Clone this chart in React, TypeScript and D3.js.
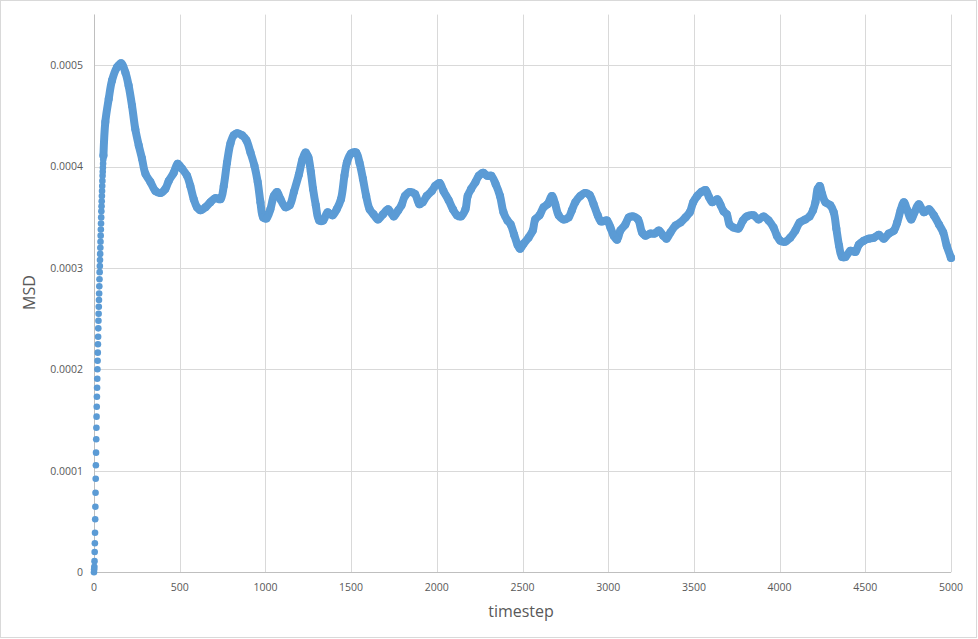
import React from "react";
import * as d3 from "d3";

// ---- data ----
// early ballistic rise, one sample per timestep (timestep = index)
const riseValues: number[] = [
  0, 0.03e-4, 0.055e-4, 0.11e-4, 0.2e-4, 0.286e-4, 0.39e-4, 0.523e-4, 0.647e-4, 0.785e-4,
  0.923e-4, 1.055e-4, 1.18e-4, 1.312e-4, 1.426e-4, 1.535e-4, 1.633e-4, 1.732e-4, 1.82e-4, 1.909e-4,
  2.002e-4, 2.087e-4, 2.166e-4, 2.249e-4, 2.323e-4, 2.406e-4, 2.481e-4, 2.55e-4, 2.619e-4, 2.685e-4,
  2.75e-4, 2.82e-4, 2.89e-4, 2.96e-4, 3.02e-4, 3.08e-4, 3.14e-4, 3.2e-4, 3.26e-4, 3.32e-4,
  3.38e-4, 3.44e-4, 3.5e-4, 3.56e-4, 3.61e-4, 3.66e-4, 3.71e-4, 3.76e-4, 3.81e-4, 3.86e-4,
  3.91e-4, 3.95e-4, 3.99e-4, 4.03e-4, 4.07e-4, 4.11e-4,
];

const mainSteps: number[] = [
  55, 66, 86, 105, 134, 158, 183, 202, 222, 241, 261, 280, 300, 329, 358, 387, 416, 436, 465, 488,
  514, 543, 562, 582, 601, 621, 650, 679, 708, 738, 757, 776, 796, 815, 835, 864, 889, 913, 936, 955,
  971, 987, 1006, 1029, 1049, 1068, 1088, 1117, 1142, 1166, 1195, 1216, 1235, 1251, 1265, 1278, 1294, 1314, 1337, 1363,
  1392, 1416, 1441, 1461, 1475, 1500, 1529, 1549, 1569, 1588, 1608, 1631, 1657, 1686, 1716, 1749, 1775, 1794, 1814, 1843,
  1873, 1898, 1918, 1941, 1971, 1990, 2016, 2039, 2069, 2094, 2118, 2141, 2167, 2180, 2200, 2226, 2245, 2271, 2294, 2318,
  2343, 2369, 2389, 2412, 2431, 2451, 2471, 2486, 2506, 2535, 2560, 2574, 2599, 2623, 2646, 2672, 2691, 2711, 2740, 2769,
  2788, 2808, 2837, 2866, 2892, 2915, 2939, 2958, 2993, 3013, 3032, 3052, 3071, 3100, 3120, 3145, 3174, 3198, 3217, 3246,
  3270, 3295, 3321, 3340, 3363, 3393, 3422, 3451, 3476, 3496, 3519, 3543, 3568, 3588, 3607, 3636, 3656, 3673, 3692, 3708,
  3731, 3760, 3786, 3809, 3848, 3877, 3906, 3936, 3965, 3984, 4004, 4033, 4062, 4092, 4117, 4150, 4175, 4195, 4209, 4222,
  4234, 4248, 4267, 4296, 4316, 4331, 4347, 4364, 4384, 4413, 4442, 4462, 4491, 4520, 4550, 4579, 4608, 4637, 4667, 4686,
  4706, 4725, 4745, 4768, 4787, 4813, 4842, 4871, 4900, 4930, 4955, 4975, 4998, 5000,
];

const mainValues: number[] = [
  4.11e-4, 4.44e-4, 4.67e-4, 4.85e-4, 4.98e-4, 5.02e-4, 4.93e-4, 4.8e-4, 4.6e-4, 4.37e-4, 4.21e-4, 4.08e-4, 3.93e-4, 3.85e-4, 3.76e-4, 3.74e-4, 3.78e-4, 3.86e-4, 3.94e-4, 4.03e-4,
  3.98e-4, 3.91e-4, 3.81e-4, 3.68e-4, 3.6e-4, 3.57e-4, 3.6e-4, 3.65e-4, 3.69e-4, 3.68e-4, 3.81e-4, 4.04e-4, 4.23e-4, 4.31e-4, 4.33e-4, 4.31e-4, 4.26e-4, 4.14e-4, 4.01e-4, 3.85e-4,
  3.65e-4, 3.5e-4, 3.49e-4, 3.58e-4, 3.71e-4, 3.75e-4, 3.68e-4, 3.6e-4, 3.62e-4, 3.75e-4, 3.92e-4, 4.07e-4, 4.14e-4, 4.09e-4, 3.95e-4, 3.78e-4, 3.62e-4, 3.47e-4, 3.47e-4, 3.55e-4,
  3.52e-4, 3.58e-4, 3.68e-4, 3.91e-4, 4.04e-4, 4.13e-4, 4.14e-4, 4.04e-4, 3.88e-4, 3.71e-4, 3.58e-4, 3.53e-4, 3.48e-4, 3.53e-4, 3.58e-4, 3.51e-4, 3.57e-4, 3.62e-4, 3.71e-4, 3.75e-4,
  3.73e-4, 3.63e-4, 3.65e-4, 3.71e-4, 3.76e-4, 3.81e-4, 3.84e-4, 3.76e-4, 3.67e-4, 3.58e-4, 3.52e-4, 3.51e-4, 3.58e-4, 3.71e-4, 3.78e-4, 3.85e-4, 3.91e-4, 3.94e-4, 3.91e-4, 3.91e-4,
  3.83e-4, 3.71e-4, 3.55e-4, 3.47e-4, 3.43e-4, 3.33e-4, 3.23e-4, 3.19e-4, 3.24e-4, 3.3e-4, 3.37e-4, 3.48e-4, 3.52e-4, 3.6e-4, 3.63e-4, 3.71e-4, 3.63e-4, 3.52e-4, 3.48e-4, 3.5e-4,
  3.57e-4, 3.65e-4, 3.71e-4, 3.74e-4, 3.72e-4, 3.63e-4, 3.52e-4, 3.46e-4, 3.47e-4, 3.4e-4, 3.32e-4, 3.28e-4, 3.37e-4, 3.43e-4, 3.5e-4, 3.51e-4, 3.48e-4, 3.35e-4, 3.32e-4, 3.34e-4,
  3.34e-4, 3.37e-4, 3.32e-4, 3.29e-4, 3.35e-4, 3.42e-4, 3.45e-4, 3.5e-4, 3.55e-4, 3.65e-4, 3.71e-4, 3.75e-4, 3.77e-4, 3.7e-4, 3.65e-4, 3.68e-4, 3.62e-4, 3.56e-4, 3.53e-4, 3.43e-4,
  3.4e-4, 3.39e-4, 3.47e-4, 3.51e-4, 3.52e-4, 3.48e-4, 3.51e-4, 3.47e-4, 3.4e-4, 3.32e-4, 3.27e-4, 3.26e-4, 3.3e-4, 3.37e-4, 3.45e-4, 3.48e-4, 3.51e-4, 3.57e-4, 3.65e-4, 3.78e-4,
  3.81e-4, 3.73e-4, 3.65e-4, 3.62e-4, 3.55e-4, 3.39e-4, 3.22e-4, 3.11e-4, 3.11e-4, 3.17e-4, 3.16e-4, 3.23e-4, 3.27e-4, 3.29e-4, 3.3e-4, 3.33e-4, 3.29e-4, 3.34e-4, 3.37e-4, 3.45e-4,
  3.57e-4, 3.65e-4, 3.57e-4, 3.48e-4, 3.55e-4, 3.63e-4, 3.55e-4, 3.58e-4, 3.52e-4, 3.43e-4, 3.35e-4, 3.22e-4, 3.11e-4, 3.1e-4,
];

const xTicks: number[] = [0, 500, 1000, 1500, 2000, 2500, 3000, 3500, 4000, 4500, 5000];
const yTicks: number[] = [0, 0.0001, 0.0002, 0.0003, 0.0004, 0.0005];
const yTickLabels: string[] = ["0", "0.0001", "0.0002", "0.0003", "0.0004", "0.0005"];
const xTitle = "timestep";
const yTitle = "MSD";

// ---- layout ----
const W = 978;
const H = 639;
const left = 94;
const right = 951;
const top = 14.6;
const bottom = 572.3;
const BLUE = "#5B9BD5";
const GRID = "#d9d9d9";
const TEXT = "#595959";
const FONT = "'Open Sans', 'Noto Sans', sans-serif";

export default function App() {
  const x = d3.scaleLinear().domain([0, 5000]).range([left, right]);
  const y = d3.scaleLinear().domain([0, 0.00055]).range([bottom, top]);

  const riseData = riseValues.map((v, i) => ({ t: i, v }));
  const mainData = mainSteps.map((t, i) => ({ t, v: mainValues[i] }));

  const line = d3
    .line<{ t: number; v: number }>()
    .x((d) => x(d.t))
    .y((d) => y(d.v))
    .curve(d3.curveCatmullRom.alpha(0.5));

  const px = (v: number) => Math.round(v) + 0.5;

  return (
    <svg
      width={W}
      height={H}
      style={{ position: "absolute", left: 0, top: 0, background: "#fff" }}
      fontFamily={FONT}
    >
      <rect x={0.5} y={0.5} width={976} height={637} fill="#fff" stroke={GRID} />
      {/* vertical gridlines */}
      {xTicks.map((t) => (
        <line key={"vx" + t} x1={px(x(t))} x2={px(x(t))} y1={top} y2={bottom} stroke={GRID} />
      ))}
      {/* horizontal gridlines */}
      {yTicks.map((t) => (
        <line key={"hy" + t} x1={left} x2={right} y1={px(y(t))} y2={px(y(t))} stroke={GRID} />
      ))}
      {/* axes */}
      <line x1={left} x2={right} y1={px(y(0))} y2={px(y(0))} stroke="#bfbfbf" />
      <line x1={px(x(0))} x2={px(x(0))} y1={top} y2={bottom} stroke="#bfbfbf" />
      {/* tick labels */}
      {xTicks.map((t) => (
        <text key={"xl" + t} x={x(t)} y={591} textAnchor="middle" fontSize={10.5} fill={TEXT}>
          {t}
        </text>
      ))}
      {yTicks.map((t, i) => (
        <text
          key={"yl" + t}
          x={83}
          y={y(t)}
          dy="0.35em"
          textAnchor="end"
          fontSize={10.5}
          fill={TEXT}
        >
          {yTickLabels[i]}
        </text>
      ))}
      {/* axis titles */}
      <text x={521} y={617} textAnchor="middle" fontSize={16} fill={TEXT}>
        {xTitle}
      </text>
      <text
        transform={`translate(35, 292.5) rotate(-90)`}
        textAnchor="middle"
        fontSize={16}
        fill={TEXT}
      >
        {yTitle}
      </text>
      {/* series */}
      <path
        d={line(mainData) || ""}
        fill="none"
        stroke={BLUE}
        strokeWidth={8}
        strokeLinejoin="round"
        strokeLinecap="round"
      />
      {mainData.map((d, i) => (
        <circle key={"m" + i} cx={x(d.t)} cy={y(d.v)} r={4} fill={BLUE} />
      ))}
      {riseData.map((d) => (
        <circle key={"r" + d.t} cx={x(d.t)} cy={y(d.v)} r={3.3} fill={BLUE} />
      ))}
    </svg>
  );
}
